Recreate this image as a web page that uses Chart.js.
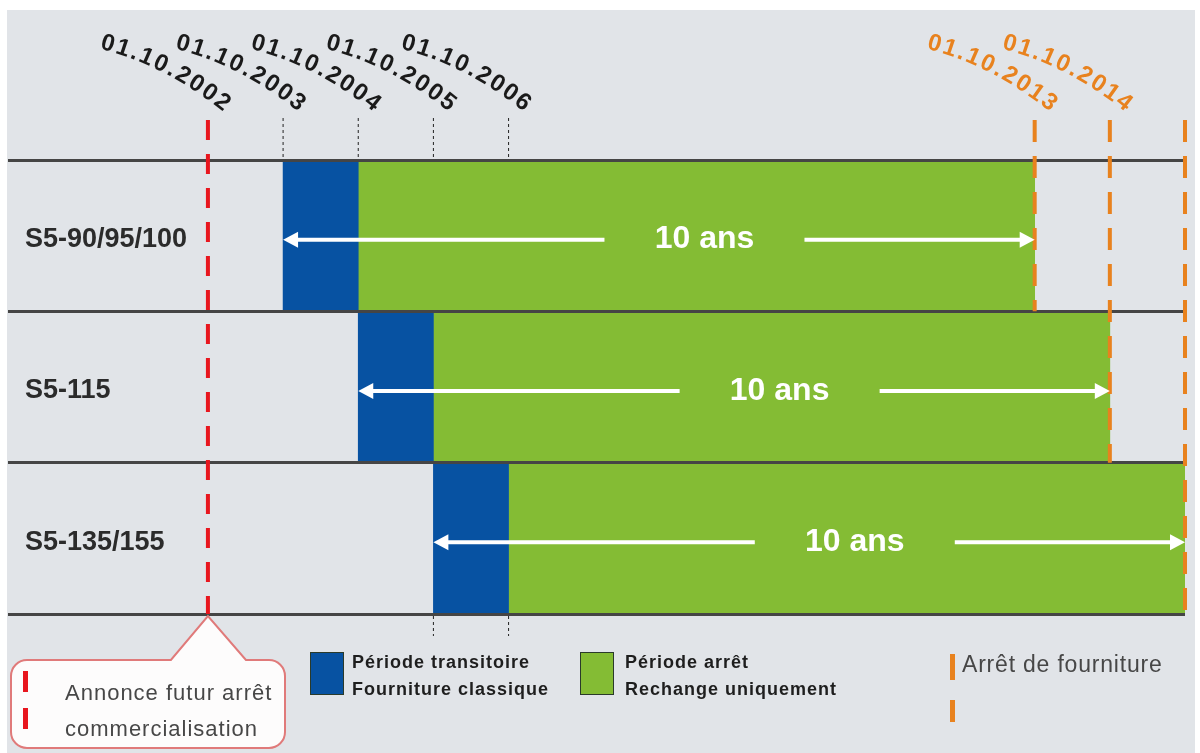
<!DOCTYPE html>
<html lang="fr">
<head>
<meta charset="utf-8">
<title>Planning arrêt S5</title>
<script src="https://cdn.jsdelivr.net/npm/chart.js@4.4.1/dist/chart.umd.min.js"></script>
<style>
    html, body { margin: 0; padding: 0; background: #ffffff; }
    #wrap { position: relative; width: 1200px; height: 753px; }
</style>
</head>
<body>
<div id="wrap"><canvas id="planningChart"></canvas></div>
<script>
const produits = ['S5-90/95/100', 'S5-115', 'S5-135/155'];
const debutTransition = [2003, 2004, 2005];
const debutArret = [2004, 2005, 2006];
const finFourniture = [2013, 2014, 2015];
const dureeLabels = ['10 ans', '10 ans', '10 ans'];
const anneeAnnonce = 2002;
const anneesHaut = [2002, 2003, 2004, 2005, 2006];
const anneesFin = [2013, 2014];
const anneesBas = [2005, 2006];

const legendeTransition = ['Période transitoire', 'Fourniture classique'];
const legendeArret = ['Période arrêt', 'Rechange uniquement'];
const legendeAnnonce = ['Annonce futur arrêt', 'commercialisation'];
const legendeFin = 'Arrêt de fourniture';

const BLEU = '#0752a2';
const VERT = '#84bc34';
const ROUGE = '#e8161e';
const ORANGE = '#e8821e';
const FOND = '#e1e4e8';
const FONT = '"Liberation Sans", Arial, sans-serif';

const dateLabel = (annee) => `01.10.${annee}`;

// texte légèrement courbé, comme sur l'original
const drawDateLabel = (ctx, x, text, color) => {
    ctx.save();
    ctx.font = `bold 24px ${FONT}`;
    ctx.fillStyle = color;
    ctx.textAlign = 'left';
    ctx.textBaseline = 'alphabetic';
    const chars = [...text];
    const a0 = 16 * Math.PI / 180;
    const a1 = 38 * Math.PI / 180;
    const spacing = 2.2;
    let px = 0, py = 0;
    const pos = chars.map((c, k) => {
        const a = a0 + (a1 - a0) * k / (chars.length - 1);
        const w = ctx.measureText(c).width + spacing;
        const p = { c, x: px, y: py, a };
        px += Math.cos(a) * w;
        py += Math.sin(a) * w;
        return p;
    });
    const dx = x + 17 - px;
    const dy = 113 - py;
    pos.forEach((p) => {
        ctx.save();
        ctx.translate(p.x + dx, p.y + dy);
        ctx.rotate(p.a);
        ctx.fillText(p.c, 0, 0);
        ctx.restore();
    });
    ctx.restore();
};

const vLine = (ctx, x, y1, y2, color, width, dash) => {
    ctx.save();
    ctx.strokeStyle = color;
    ctx.lineWidth = width;
    ctx.setLineDash(dash);
    ctx.beginPath();
    ctx.moveTo(x, y1);
    ctx.lineTo(x, y2);
    ctx.stroke();
    ctx.restore();
};

const arrowHead = (ctx, x, y, dir) => {
    ctx.beginPath();
    ctx.moveTo(x, y);
    ctx.lineTo(x - dir * 15, y - 8);
    ctx.lineTo(x - dir * 15, y + 8);
    ctx.closePath();
    ctx.fill();
};

const decorPlugin = {
    id: 'decor',
    beforeDraw(chart) {
        const { ctx, width, height } = chart;
        ctx.save();
        ctx.fillStyle = '#ffffff';
        ctx.fillRect(0, 0, width, height);
        ctx.fillStyle = FOND;
        ctx.fillRect(7, 10, width - 12, height - 10);
        ctx.restore();
    },
    afterDraw(chart) {
        const { ctx, chartArea } = chart;
        const x = chart.scales.x;
        const y = chart.scales.y;
        const top = chartArea.top;
        const bottom = chartArea.bottom;
        const half = (y.getPixelForValue(1) - y.getPixelForValue(0)) / 2;

        // pointillés noirs des dates
        anneesHaut.slice(1).forEach((a) => vLine(ctx, x.getPixelForValue(a), 118, top, '#222', 1, [3, 3]));
        anneesBas.forEach((a) => vLine(ctx, x.getPixelForValue(a), bottom + 2, bottom + 22, '#222', 1, [3, 3]));

        // annonce (rouge)
        vLine(ctx, x.getPixelForValue(anneeAnnonce), 120, bottom, ROUGE, 4, [20, 14]);

        // arrêt de fourniture (orange)
        finFourniture.forEach((a, i) => {
            vLine(ctx, x.getPixelForValue(a), 120, y.getPixelForValue(i) + half, ORANGE, 4, [22, 14]);
        });

        // flèches "10 ans"
        ctx.save();
        ctx.fillStyle = '#ffffff';
        ctx.strokeStyle = '#ffffff';
        ctx.lineWidth = 4;
        produits.forEach((p, i) => {
            const yy = y.getPixelForValue(i) + 4;
            const x1 = x.getPixelForValue(debutTransition[i]);
            const x2 = x.getPixelForValue(finFourniture[i]);
            const mid = (x.getPixelForValue(debutArret[i]) + x2) / 2 + 8;
            ctx.beginPath();
            ctx.moveTo(x1 + 10, yy);
            ctx.lineTo(mid - 100, yy);
            ctx.moveTo(mid + 100, yy);
            ctx.lineTo(x2 - 10, yy);
            ctx.stroke();
            arrowHead(ctx, x1, yy, -1);
            arrowHead(ctx, x2, yy, 1);
            ctx.font = `bold 32px ${FONT}`;
            ctx.textAlign = 'center';
            ctx.textBaseline = 'middle';
            ctx.fillText(dureeLabels[i], mid, yy);
        });
        ctx.restore();

        // dates en haut
        anneesHaut.forEach((a) => drawDateLabel(ctx, x.getPixelForValue(a), dateLabel(a), '#1a1a1a'));
        anneesFin.forEach((a) => drawDateLabel(ctx, x.getPixelForValue(a), dateLabel(a), ORANGE));

        // bulle annonce
        const ax = x.getPixelForValue(anneeAnnonce);
        const L = 11, T = 660, R = 285, B = 748, r = 16;
        ctx.save();
        ctx.beginPath();
        ctx.moveTo(L + r, T);
        ctx.lineTo(ax - 37, T);
        ctx.lineTo(ax, bottom + 2);
        ctx.lineTo(ax + 38, T);
        ctx.lineTo(R - r, T);
        ctx.arcTo(R, T, R, T + r, r);
        ctx.lineTo(R, B - r);
        ctx.arcTo(R, B, R - r, B, r);
        ctx.lineTo(L + r, B);
        ctx.arcTo(L, B, L, B - r, r);
        ctx.lineTo(L, T + r);
        ctx.arcTo(L, T, L + r, T, r);
        ctx.closePath();
        ctx.fillStyle = '#fdfcfc';
        ctx.fill();
        ctx.strokeStyle = '#e07a7a';
        ctx.lineWidth = 2;
        ctx.stroke();
        ctx.fillStyle = ROUGE;
        ctx.fillRect(23, 671, 5, 21);
        ctx.fillRect(23, 708, 5, 21);
        ctx.fillStyle = '#474747';
        ctx.font = `22px ${FONT}`;
        ctx.letterSpacing = '1px';
        ctx.textBaseline = 'alphabetic';
        ctx.fillText(legendeAnnonce[0], 65, 700);
        ctx.fillText(legendeAnnonce[1], 65, 736);
        ctx.restore();

        // légende carrés
        const ds = chart.data.datasets;
        const carre = (cx, tx, color, lignes) => {
            ctx.save();
            ctx.fillStyle = color;
            ctx.fillRect(cx, 652, 34, 43);
            ctx.strokeStyle = '#2a3a2a';
            ctx.lineWidth = 1;
            ctx.strokeRect(cx + 0.5, 652.5, 33, 42);
            ctx.fillStyle = '#1e1e1e';
            ctx.font = `bold 18px ${FONT}`;
            ctx.letterSpacing = '1px';
            ctx.textBaseline = 'alphabetic';
            ctx.fillText(lignes[0], tx, 668);
            ctx.fillText(lignes[1], tx, 695);
            ctx.restore();
        };
        carre(310, 352, ds[0].backgroundColor, legendeTransition);
        carre(580, 625, ds[1].backgroundColor, legendeArret);

        // légende arrêt de fourniture
        ctx.save();
        ctx.fillStyle = ORANGE;
        ctx.fillRect(950, 654, 5, 26);
        ctx.fillRect(950, 700, 5, 22);
        ctx.fillStyle = '#474747';
        ctx.font = `23px ${FONT}`;
        ctx.letterSpacing = '0.8px';
        ctx.textBaseline = 'alphabetic';
        ctx.fillText(legendeFin, 962, 672);
        ctx.restore();
    }
};

const buildData = () => ({
    labels: produits,
    datasets: [
        {
            label: legendeTransition.join(' '),
            data: produits.map((p, i) => [debutTransition[i], debutArret[i]]),
            backgroundColor: BLEU,
            borderWidth: 0
        },
        {
            label: legendeArret.join(' '),
            data: produits.map((p, i) => [debutArret[i], finFourniture[i]]),
            backgroundColor: VERT,
            borderWidth: 0
        }
    ]
});

window.addEventListener('DOMContentLoaded', () => {
    const context = document.getElementById('planningChart').getContext('2d');
    new Chart(context, {
        type: 'bar',
        data: buildData(),
        plugins: [decorPlugin],
        options: {
            indexAxis: 'y',
            responsive: true,
            maintainAspectRatio: false,
            animation: false,
            layout: { padding: { left: 0, right: 15, top: 160, bottom: 139 } },
            datasets: {
                bar: { grouped: false, barPercentage: 1, categoryPercentage: 1 }
            },
            plugins: {
                legend: { display: false },
                tooltip: { enabled: false }
            },
            scales: {
                x: {
                    type: 'linear',
                    display: false,
                    min: 1999.34,
                    max: 2015
                },
                y: {
                    afterFit: (scale) => { scale.width = 8; },
                    border: { display: false },
                    grid: { color: '#454545', lineWidth: 3, drawTicks: false, z: 1 },
                    ticks: {
                        mirror: true,
                        padding: 17,
                        labelOffset: 4,
                        z: 1,
                        color: '#2b2b2b',
                        font: { family: FONT, size: 27, weight: 'bold' }
                    }
                }
            }
        }
    });
});
</script>
</body>
</html>
